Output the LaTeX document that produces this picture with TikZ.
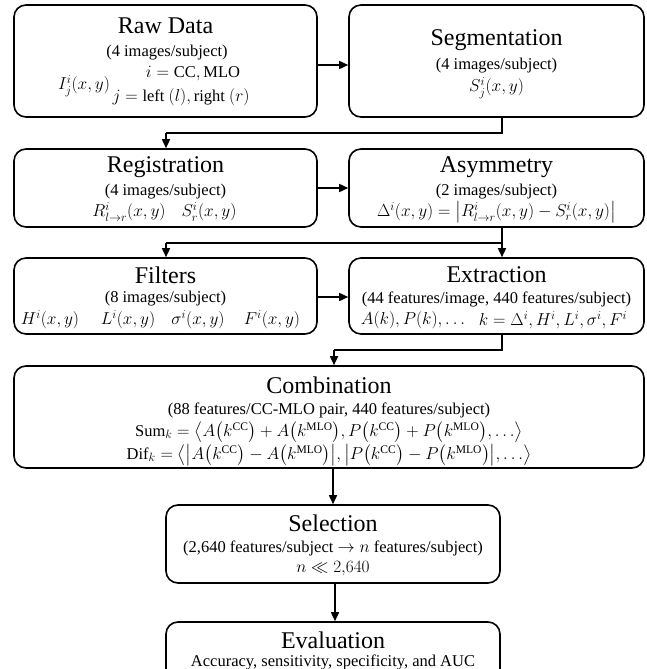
\documentclass[tikz,border=0pt]{standalone}
\usepackage{fontspec}
\setmainfont{Liberation Serif}
\usepackage{amsmath}
\usetikzlibrary{arrows.meta}
\tikzset{
  box/.style={draw, line width=1.6pt, rounded corners=12pt, inner sep=0pt},
  ttl/.style={font=\fontsize{24}{26}\selectfont, inner sep=0pt},
  txt/.style={font=\fontsize{16.5}{19}\selectfont, inner sep=0pt},
  conn/.style={line width=1.6pt},
  arr/.style={line width=1.6pt, -{Triangle[length=9pt,width=8pt]}}
}
\begin{document}
\begin{tikzpicture}[x=1pt,y=-1pt]
\useasboundingbox (0,0) rectangle (646,669);
\clip (0,0) rectangle (646,669);
% boxes
\node[box, minimum width=303pt, minimum height=112pt] (raw) at (165.5,61) {};
\node[box, minimum width=295pt, minimum height=112pt] (seg) at (496.5,61) {};
\node[box, minimum width=303pt, minimum height=78pt] (reg) at (165.5,188) {};
\node[box, minimum width=295pt, minimum height=78pt] (asym) at (496.5,188) {};
\node[box, minimum width=303pt, minimum height=76pt] (filt) at (165.5,296) {};
\node[box, minimum width=295pt, minimum height=76pt] (extr) at (496.5,296) {};
\node[box, minimum width=630pt, minimum height=102pt] (comb) at (329,417) {};
\node[box, minimum width=334pt, minimum height=78pt] (sel) at (333,544) {};
\node[box, minimum width=334pt, minimum height=78pt] (eval) at (333,661) {};
% texts
\node[ttl] (rawT) at (165.5,26) {Raw Data};
\node[txt] (rawS) at (167,53) {(4 images/subject)};
\node[txt] (rawI) at (84,86) {$I_j^i(x,y)$};
\node[txt] (rawA) at (193,74) {$i=\mathrm{CC},\mathrm{MLO}$};
\node[txt] (rawB) at (181,97) {$j=\text{left }(l),\text{right }(r)$};

\node[ttl] (segT) at (496.5,40) {Segmentation};
\node[txt] (segS) at (496.5,66) {(4 images/subject)};
\node[txt] (segM) at (496.5,88) {$S_j^i(x,y)$};

\node[ttl] (regT) at (165.5,167) {Registration};
\node[txt] (regS) at (165.5,192) {(4 images/subject)};
\node[txt] (regA) at (129,212) {$R_{l\to r}^i(x,y)$};
\node[txt] (regB) at (209,212) {$S_r^i(x,y)$};

\node[ttl] (asyT) at (496.5,167) {Asymmetry};
\node[txt] (asyS) at (496.5,192) {(2 images/subject)};
\node[txt] (asyM) at (496.5,212) {$\Delta^i(x,y)=\bigl|R_{l\to r}^i(x,y)-S_r^i(x,y)\bigr|$};

\node[ttl] (filT) at (165.5,275) {Filters};
\node[txt] (filS) at (165.5,299) {(8 images/subject)};
\node[txt] (filH) at (50,320) {$H^i(x,y)$};
\node[txt] (filL) at (128,320) {$L^i(x,y)$};
\node[txt] (filG) at (198,320) {$\sigma^i(x,y)$};
\node[txt] (filF) at (272,320) {$F^i(x,y)$};

\node[ttl] (extT) at (496.5,275) {Extraction};
\node[txt] (extS) at (496.5,299) {(44 features/image, 440 features/subject)};
\node[txt] (extA) at (413,320) {$A(k),P(k),\ldots$};
\node[txt] (extB) at (553,320) {$k=\Delta^i,H^i,L^i,\sigma^i,F^i$};

\node[ttl] (comT) at (329,385) {Combination};
\node[txt] (comS) at (329,410) {(88 features/CC-MLO pair, 440 features/subject)};
\node[txt] (comA) at (329,432) {$\mathrm{Sum}_k=\bigl\langle A\bigl(k^{\mathrm{CC}}\bigr)+A\bigl(k^{\mathrm{MLO}}\bigr),P\bigl(k^{\mathrm{CC}}\bigr)+P\bigl(k^{\mathrm{MLO}}\bigr),\ldots\bigr\rangle$};
\node[txt] (comB) at (329,455) {$\mathrm{Dif}_k=\bigl\langle\bigl|A\bigl(k^{\mathrm{CC}}\bigr)-A\bigl(k^{\mathrm{MLO}}\bigr)\bigr|,\bigl|P\bigl(k^{\mathrm{CC}}\bigr)-P\bigl(k^{\mathrm{MLO}}\bigr)\bigr|,\ldots\bigr\rangle$};

\node[ttl] (selT) at (333,523) {Selection};
\node[txt] (selS) at (333,548) {(2,640 features/subject $\to n$ features/subject)};
\node[txt] (selM) at (333,569) {$n\ll 2{,}640$};

\node[ttl] (evaT) at (333,640) {Evaluation};
\node[txt] (evaS) at (333,662) {Accuracy, sensitivity, specificity, and AUC};

% connectors
\coordinate (c1) at (502,133);
\coordinate (c2) at (166,133);
\coordinate (c3) at (502,243);
\coordinate (c4) at (166,243);
\coordinate (c5) at (502,350);
\coordinate (c6) at (334,350);

\draw[arr] (raw.east |- 0,65) -- (seg.west |- 0,65);
\draw[conn] (seg.south -| c1) -- (c1) -- (c2);
\draw[arr] (c2) -- (reg.north -| c2);
\draw[arr] (reg.east |- 0,188) -- (asym.west |- 0,188);
\draw[arr] (asym.south -| c3) -- (extr.north -| c3);
\draw[conn] (c3) -- (c4);
\draw[arr] (c4) -- (filt.north -| c4);
\draw[arr] (filt.east |- 0,297) -- (extr.west |- 0,297);
\draw[conn] (extr.south -| c5) -- (c5) -- (c6);
\draw[arr] (c6) -- (comb.north -| c6);
\draw[arr] (comb.south -| 333,0) -- (sel.north -| 333,0);
\draw[arr] (sel.south -| 335,0) -- (eval.north -| 335,0);
\end{tikzpicture}
\end{document}
